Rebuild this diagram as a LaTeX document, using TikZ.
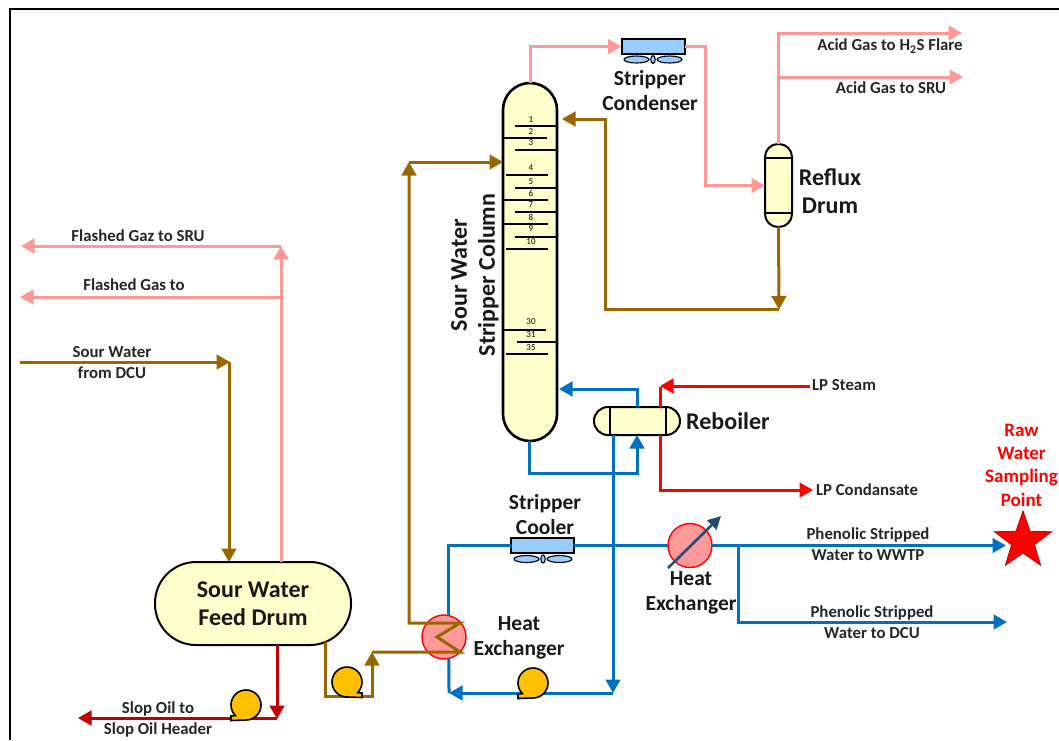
\documentclass[tikz,border=0pt]{standalone}
\usepackage{fontspec}
\setmainfont{Carlito}
\usetikzlibrary{arrows.meta,shapes.geometric}
\definecolor{vessel}{HTML}{FFFFCC}
\definecolor{gasline}{HTML}{FF9999}
\definecolor{feedline}{HTML}{996600}
\definecolor{waterline}{HTML}{0070C0}
\definecolor{slopline}{HTML}{C00000}
\definecolor{coolblue}{HTML}{99CCFF}
\definecolor{pumpfill}{HTML}{FFC000}
\definecolor{trimarrow}{HTML}{1F4E79}
\tikzset{
  pipe/.style={line width=3pt, line join=miter},
  flow/.style={pipe, -{Triangle[length=13.5pt,width=14.5pt]}},
  gas/.style={flow, draw=gasline},
  gasplain/.style={pipe, draw=gasline},
  feed/.style={flow, draw=feedline},
  feedplain/.style={pipe, draw=feedline},
  water/.style={flow, draw=waterline},
  waterplain/.style={pipe, draw=waterline},
  steam/.style={flow, draw=red},
  steamplain/.style={pipe, draw=red},
  slop/.style={flow, draw=slopline},
  vesselbox/.style={draw=black, fill=vessel, line width=2pt, inner sep=0pt, outer sep=0pt},
  fincooler/.style={draw=black, fill=coolblue, line width=2pt, inner sep=0pt, outer sep=0pt,
    minimum width=63pt, minimum height=15pt},
  exchanger/.style={circle, draw=red, fill=gasline, line width=1.4pt, inner sep=0pt, outer sep=0pt,
    minimum size=44pt},
  biglab/.style={font=\fontsize{24}{28}\bfseries\selectfont, align=center, text=black!90},
  midlab/.style={font=\fontsize{21.5}{25}\bfseries\selectfont, align=center, text=black!90},
  lab/.style={font=\fontsize{16.8}{21}\bfseries\selectfont, align=center, text=black!85},
  samplelab/.style={font=\fontsize{19}{23.4}\bfseries\selectfont, align=center, text=red},
  traylab/.style={font=\fontsize{9}{9}\selectfont, inner sep=0pt},
  tray/.style={line width=2.2pt, draw=black},
  fanblade/.style={draw=black, fill=coolblue, line width=1.1pt},
  pumpbody/.pic={
    \draw[fill=pumpfill, draw=black, line width=1.6pt]
      (15,15.5) -- (15,11) -- (10.6,10.6) arc[start angle=45, end angle=-270, radius=15] -- cycle;
  },
  fanunit/.pic={
    \draw[fanblade] (-16.5,0) ellipse [x radius=12.5, y radius=3.5];
    \draw[fanblade] (16.5,0) ellipse [x radius=12.5, y radius=3.5];
    \draw[fanblade] (0,0) ellipse [x radius=2.2, y radius=4];
  },
}
\begin{document}
\begin{tikzpicture}[x=1pt,y=-1pt]
  \useasboundingbox (0,0) rectangle (1059,740);
  \coordinate (framebl) at (9.5,740);
  \coordinate (frametl) at (9.5,8.5);
  \coordinate (frametr) at (1059,8.5);
  \draw[line width=2pt] (framebl) -- (frametl) -- (frametr);

  % vessels
  \node[vesselbox, line width=2.6pt, rounded corners=27pt, minimum width=54pt, minimum height=358pt] (column) at (530,262) {};
  \node[vesselbox, rounded corners=13pt, minimum width=27pt, minimum height=83pt] (reflux) at (778.5,185.5) {};
  \node[vesselbox, rounded corners=14pt, minimum width=86pt, minimum height=28pt] (reboiler) at (637,421) {};
  \node[vesselbox, rounded corners=41pt, minimum width=196pt, minimum height=83pt, biglab] (drum) at (253,603.5) {Sour Water\\Feed Drum};
  \draw[line width=1.8pt] (765,158) -- (792,158) (765,213) -- (792,213);
  \draw[line width=1.6pt] (610,407) -- (610,435) (666,407) -- (666,435);

  % trays
  \foreach \ty/\xa/\xb/\lab/\ly in {126/515/557/1/120, 138/503/547/2/131.5, 150/515/557/3/143,
      175/506/548/4/168, 188/515/557/5/182, 200/503/548/6/193, 212/515/557/7/205, 224/503/548/8/217,
      237/515/557/9/229, 249/506/548/10/242, 330/503/546/30/322, 342/517/557/31/335, 354/506/548/35/348} {
    \draw[tray] (\xa,\ty) -- (\xb,\ty);
    \node[traylab] (tray\lab) at (531,\ly) {\lab};
  }

  % exchangers and coolers
  \node[fincooler] (condenser) at (653,46.5) {};
  \node[fincooler] (cooler) at (542.5,545.5) {};
  \node[exchanger] (hxfeed) at (444,637) {};
  \node[exchanger] (hxtrim) at (690,545.5) {};
  \pic at (653,59.5) {fanunit};
  \pic at (543,559) {fanunit};

  \node[star, star points=5, star point ratio=2.5, minimum size=60pt, inner sep=0pt,
    fill=red, draw=slopline, line width=0.8pt] (sample) at (1023,541) {};

  % free ends
  \coordinate (condrop) at (705,46.5);
  \coordinate (flareend) at (962,33);
  \coordinate (sruleft) at (779,77);
  \coordinate (sruend) at (963,77);
  \coordinate (refluxturn) at (779,309.5);
  \coordinate (refluxback) at (605,309.5);
  \coordinate (columntop) at (562,119);
  \coordinate (columnfeed) at (503,162);
  \coordinate (feedtop) at (409,162);
  \coordinate (hxhigh) at (460,623);
  \coordinate (hxmid) at (437,637);
  \coordinate (hxlow) at (460,652);
  \coordinate (hxin) at (372,652);
  \coordinate (drumout) at (325,642);
  \coordinate (pumpturn) at (372,696);
  \coordinate (flashtop) at (281,246);
  \coordinate (flashmid) at (281,297);
  \coordinate (flashout) at (281,562);
  \coordinate (flashend) at (21,246);
  \coordinate (flashend2) at (20,297);
  \coordinate (dcustart) at (20,362);
  \coordinate (dcucorner) at (229,362);
  \coordinate (dcuin) at (229,562);
  \coordinate (slopout) at (277,645);
  \coordinate (slopturn) at (277,718);
  \coordinate (slopend) at (78,718);
  \coordinate (colreturn) at (559,389);
  \coordinate (colbottom) at (529,441);
  \coordinate (rebfeedturn) at (529,473);
  \coordinate (rebcold) at (613,435);
  \coordinate (coldturn) at (613,693);
  \coordinate (hxreturn) at (449,693);
  \coordinate (teeout) at (738,545.5);
  \coordinate (wwtpend) at (1006,545.5);
  \coordinate (dcuend) at (1007,622);
  \coordinate (steamstart) at (810,386);
  \coordinate (steamin) at (660,386);
  \coordinate (steamtop) at (660,407);
  \coordinate (condtop) at (660,435);
  \coordinate (condend) at (813,490);
  \coordinate (trimlow) at (668,568);
  \coordinate (trimhigh) at (721,516);

  % acid gas
  \draw[gas] (column.north) |- (condenser.west);
  \draw[gas] (condenser.east) -- (condrop) |- (reflux.west);
  \draw[gas] (reflux.north) |- (flareend);
  \draw[gas] (sruleft) -- (sruend);

  % reflux
  \draw[feed] (reflux.south) -- (refluxturn);
  \draw[feed] (refluxturn) -- (refluxback) |- (columntop);

  % column feed
  \draw[feed] (hxin) -- (hxlow) -- (hxmid) -- (hxhigh) -| (feedtop);
  \draw[feed] (feedtop) -- (columnfeed);
  \draw[feed] (drumout) |- (pumpturn) -- (hxin);

  % flashed gas
  \draw[gas] (flashout) -- (flashtop);
  \draw[gas] (flashtop) -- (flashend);
  \draw[gas] (flashmid) -- (flashend2);

  % sour water in, slop out
  \draw[feed] (dcustart) -- ([xshift=1pt]dcucorner);
  \draw[feed] (dcucorner) -- (dcuin);
  \draw[slop] (slopout) -- ([yshift=-1pt]slopturn);
  \draw[slop] (slopturn) -- (slopend);

  % stripped water
  \draw[water] (reboiler.north) |- (colreturn);
  \draw[water] (colbottom) -- (rebfeedturn) -| (reboiler.south);
  \draw[water] (rebcold) -- (coldturn);
  \draw[water] (coldturn) -- (hxreturn);
  \draw[waterplain] (hxreturn) -- (hxfeed.-77);
  \draw[waterplain] (cooler.west) -| (hxfeed.77);
  \draw[waterplain] (cooler.east) -- (hxtrim.west);
  \draw[water] (hxtrim.east) -- (wwtpend);
  \draw[water] (teeout) |- (dcuend);

  % steam
  \draw[steam] (steamstart) -- (steamin);
  \draw[steamplain] (steamtop) -- ([yshift=-1pt]steamin);
  \draw[steam] (condtop) |- (condend);

  \draw[line width=2.6pt, draw=trimarrow, -{Triangle[length=13pt,width=13pt]}] (trimlow) -- (trimhigh);

  % pumps
  \pic at (246,705) [xscale=-1] {pumpbody};
  \pic at (347,682) {pumpbody};
  \pic at (533,683) [xscale=-1] {pumpbody};

  % labels
  \node[biglab, rotate=90] (columnlab) at (475,275) {Sour Water\\Stripper Column};
  \node[midlab] (condenserlab) at (650,91) {Stripper\\Condenser};
  \node[biglab] (refluxlab) at (830,191) {Reflux\\Drum};
  \node[biglab, anchor=west, inner sep=0pt] (reboilerlab) at (686,421) {Reboiler};
  \node[midlab] (coolerlab) at (545,515) {Stripper\\Cooler};
  \node[midlab] (hxfeedlab) at (519,638) {Heat\\Exchanger};
  \node[midlab] (hxtrimlab) at (691,593) {Heat\\Exchanger};
  \node[lab] (flarelab) at (890,46) {Acid Gas to H\textsubscript{2}S Flare};
  \node[lab] (srulab) at (891,88) {Acid Gas to SRU};
  \node[lab] (steamlab) at (844,385) {LP Steam};
  \node[lab] (condlab) at (867,490) {LP Condansate};
  \node[lab] (wwtplab) at (868,544.5) {Phenolic Stripped\\Water to WWTP};
  \node[lab] (dculab) at (872,622.5) {Phenolic Stripped\\Water to DCU};
  \node[samplelab] (samplelabel) at (1021.5,465) {Raw\\Water\\Sampling\\Point};
  \node[lab] (gazlab) at (138,236) {Flashed Gaz to SRU};
  \node[lab] (gaslab) at (134,285) {Flashed Gas to};
  \node[lab] (sourlab) at (112,362.5) {Sour Water\\from DCU};
  \node[lab] (sloplab) at (158,719.5) {Slop Oil to\\Slop Oil Header};
\end{tikzpicture}
\end{document}
